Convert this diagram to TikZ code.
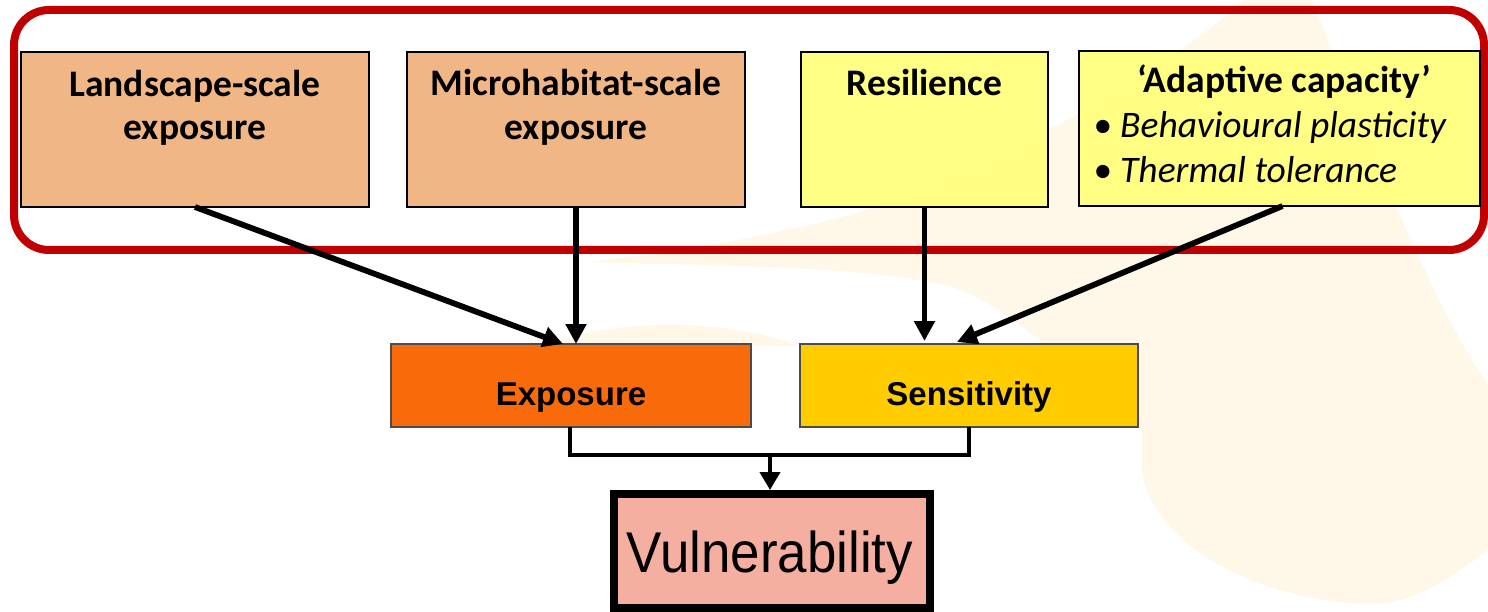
\documentclass[tikz,border=0pt]{standalone}
\usepackage{fontspec}
\setmainfont{Carlito}
\newfontfamily\arialf{Liberation Sans}
\newfontfamily\arialnarrow[FakeStretch=0.92]{Liberation Sans}
\usetikzlibrary{arrows.meta,calc}
\definecolor{tanfill}{HTML}{F0B686}
\definecolor{yelfill}{HTML}{FFFF78}
\definecolor{orgfill}{HTML}{F96A0B}
\definecolor{goldfill}{HTML}{FFCC00}
\definecolor{pinkfill}{HTML}{F5AFA0}
\definecolor{framered}{HTML}{C00000}
\definecolor{beige}{HTML}{FFF8E8}
\tikzset{
  topbox/.style={draw=black, line width=1.5pt, inner sep=0pt, outer sep=0pt},
  lowbox/.style={draw=black!70, line width=1.2pt, inner sep=0pt, outer sep=0pt},
  toptext/.style={anchor=base, inner sep=0pt, font=\fontsize{37.5}{44}\selectfont\bfseries},
  itext/.style={anchor=base west, inner sep=0pt, font=\fontsize{37.5}{44}\selectfont\itshape},
  bullettext/.style={anchor=base, inner sep=0pt, font=\fontsize{37.5}{44}\selectfont},
  lowtext/.style={anchor=base, inner sep=0pt, font=\fontsize{33}{38}\selectfont\arialf\bfseries},
  vultext/.style={anchor=base, inner sep=0pt, font=\fontsize{57.5}{62}\selectfont\arialnarrow},
  bigarrow/.style={line width=5.8pt, -{Triangle[length=20pt,width=20pt]}},
  elbow/.style={line width=4pt},
  redframe/.style={draw=framered, line width=8pt, rounded corners=35pt},
}
\begin{document}
\begin{tikzpicture}[x=1pt,y=-1pt]
\useasboundingbox (0,0) rectangle (1488,612);
% faint background decoration
\begin{scope}
\clip (0,0) rectangle (1488,612);
\fill[beige] (587,262) .. controls (680,252) and (760,238) .. (850,215)
  .. controls (950,185) and (1150,90) .. (1255,-10) -- (1308,-10)
  .. controls (1360,120) and (1440,330) .. (1500,400) -- (1500,540)
  .. controls (1440,590) and (1400,606) .. (1367,604)
  .. controls (1250,600) and (1150,540) .. (1142,470) -- (1142,430)
  .. controls (1080,380) and (1020,310) .. (950,286)
  .. controls (850,264) and (700,266) .. cycle;
\fill[beige] (530,352) .. controls (580,325) and (700,310) .. (800,346)
  .. controls (700,345) and (600,345) .. cycle;
\end{scope}
% red frame
\draw[redframe] (14,10) rectangle (1484,250);
% top boxes
\node[topbox, fill=tanfill, minimum width=348pt, minimum height=155pt] (land) at (195,129.5) {};
\node[topbox, fill=tanfill, minimum width=338pt, minimum height=155pt] (micro) at (576,129.5) {};
\node[topbox, fill=yelfill, fill opacity=0.9, minimum width=247pt, minimum height=155pt] (resil) at (924.5,129.5) {};
\node[topbox, fill=yelfill, fill opacity=0.9, minimum width=401pt, minimum height=155pt] (adapt) at (1279.5,128.5) {};
\node[toptext] (landA) at (195,97) {Landscape-scale};
\node[toptext] (landB) at (195,140) {exposure};
\node[toptext] (microA) at (576,96) {Microhabitat-scale};
\node[toptext] (microB) at (576,140) {exposure};
\node[toptext] (resilT) at (924.5,96) {Resilience};
\node[toptext] (adaptT) at (1284,93) {‘Adaptive capacity’};
\node[bullettext] (bulA) at (1103,138) {•};
\node[itext] (adaptA) at (1120,138) {Behavioural plasticity};
\node[bullettext] (bulB) at (1103,183) {•};
\node[itext] (adaptB) at (1120,183) {Thermal tolerance};
% lower boxes
\node[lowbox, fill=orgfill, minimum width=360pt, minimum height=83pt] (exp) at (571,385.5) {};
\node[lowbox, fill=goldfill, minimum width=338pt, minimum height=83pt] (sens) at (969,385.5) {};
\node[lowtext] (expT) at (571,405) {Exposure};
\node[lowtext] (sensT) at (969,405) {Sensitivity};
\node[draw=black, line width=8pt, fill=pinkfill, inner sep=0pt, outer sep=4pt,
      minimum width=316pt, minimum height=114pt] (vul) at (772,551) {};
\node[vultext] (vulT) at (770,572) {Vulnerability};
% connectors
\draw[bigarrow] (land.south) -- ([xshift=-8pt]exp.north);
\draw[bigarrow] (micro.south) -- ([xshift=5pt]exp.north);
\draw[bigarrow] (resil.south) -- ([xshift=-44.5pt,yshift=3pt]sens.north);
\draw[bigarrow] ([xshift=3pt]adapt.south) -- ([xshift=-12pt,yshift=2pt]sens.north);
\coordinate (join) at (770,455);
\draw[elbow] ([xshift=-1pt]exp.south) -- ([xshift=-1pt]exp.south |- join) -- (sens.south |- join) -- (sens.south);
\draw[elbow, -{Triangle[length=18pt,width=20pt]}] (join) -- (vul.north -| join);
\end{tikzpicture}
\end{document}
